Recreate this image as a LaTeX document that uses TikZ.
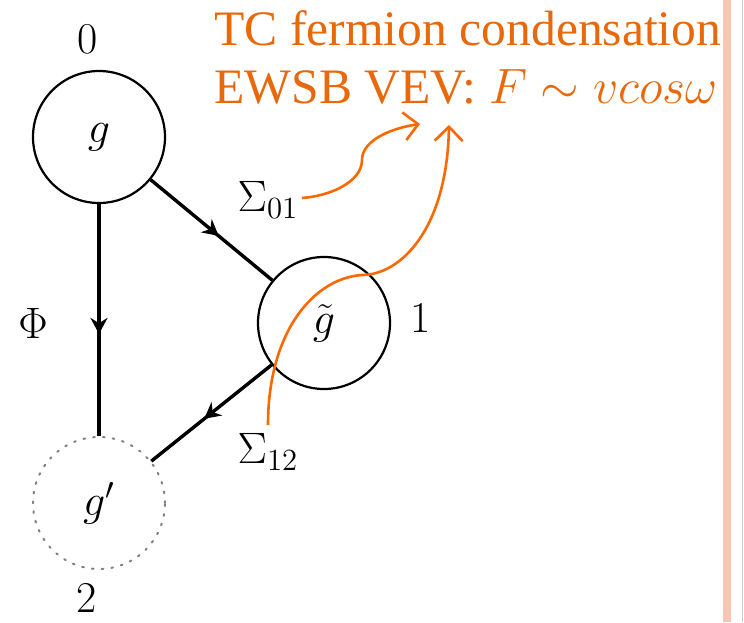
\documentclass[tikz,border=0pt]{standalone}
\usepackage{fix-cm}
\usepackage{fontspec}
\newfontfamily\notefont{Liberation Serif}
\usepackage{xcolor}
\usetikzlibrary{positioning, arrows.meta, decorations.markings}

\definecolor{noteorange}{RGB}{232,104,10}
\definecolor{curveorange}{RGB}{250,104,0}
\definecolor{barpink}{RGB}{250,198,180}

\tikzset{
  site/.style={circle, draw, line width=1.1pt, minimum size=66pt, inner sep=0pt,
    font=\fontsize{22}{26}\selectfont},
  ghost/.style={site, draw=gray, line width=1pt, dash pattern=on 0.9pt off 4pt, line cap=round},
  tag/.style={font=\fontsize{22}{26}\selectfont},
  link/.style={line width=1.7pt, postaction={decorate},
    decoration={markings, mark=at position 0.56 with {\arrow{Stealth[length=8pt,width=8.5pt]}}}},
  note/.style={noteorange, anchor=base west, inner sep=0pt,
    font=\notefont\fontsize{24.8}{28}\selectfont},
  pointer/.style={curveorange, line width=1.3pt, -{Straight Barb[length=7pt,width=14pt]}},
}

\begin{document}
\begin{tikzpicture}[x=0.5pt, y=-0.5pt]
  \useasboundingbox (0,0) rectangle (744,622);

  % Slide edge
  \fill[barpink] (723,0) rectangle (731,622);
  \draw[gray!40, line width=0.3pt] (742,0) -- (742,622);

  % Sites
  \node[site] (g) at (99,137) {$g$};
  \node[site] (gt) at (324,323) {$\tilde{g}$};
  \node[ghost] (gp) at (99,503) {$g'$};

  \node[tag] (n0) at (88,39) {0};
  \node[tag] (n1) at (421,318) {1};
  \node[tag] (n2) at (87,598) {2};

  % Links
  \draw[link] (g) -- (gp);
  \draw[link] (g) -- (gt);
  \draw[link] (gt) -- (gp);
  \node[tag] (phi) at (33,323) {$\Phi$};
  \node[tag] (s01) at (268,200) {$\Sigma_{01}$};
  \node[tag] (s12) at (268,452) {$\Sigma_{12}$};

  % Annotation
  \node[note] (cond) at (214,45) {TC fermion condensation};
  \node[note] (vev) at (214,103) {EWSB VEV: $F\sim vcos\omega$};

  \coordinate (from01) at (302,198);
  \coordinate (from12) at (268,425);
  \coordinate (tip01) at (420,124);
  \coordinate (tip12) at (449,125);
  \draw[pointer] (from01) .. controls (330,196) and (362,182) .. (362,160)
    .. controls (362,140) and (392,128) .. (tip01);
  \draw[pointer] (from12) .. controls (268,330) and (315,278) .. (362,275)
    .. controls (400,275) and (447,230) .. (tip12);
\end{tikzpicture}
\end{document}
